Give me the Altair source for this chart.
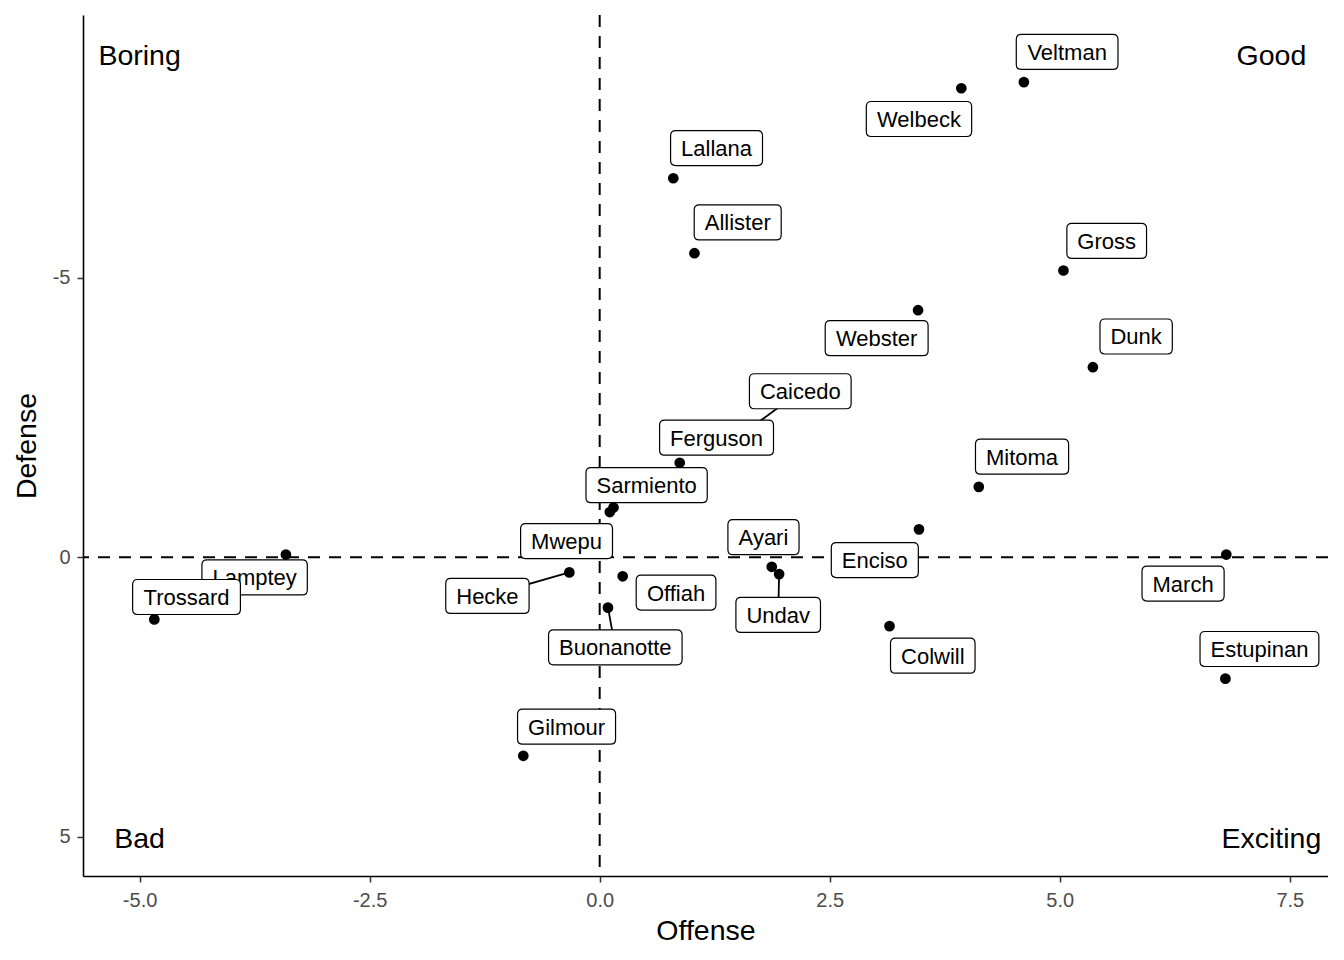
import altair as alt
import pandas as pd

# ---- data ----
names = ["Veltman", "Welbeck", "Lallana", "Allister", "Gross", "Webster", "Dunk",
         "Caicedo", "Ferguson", "Sarmiento", "Mwepu", "Mitoma", "Enciso", "Ayari",
         "Hecke", "Offiah", "Undav", "Lamptey", "Trossard", "Buonanotte", "Colwill",
         "March", "Estupinan", "Gilmour"]
offense = [4.61, 3.93, 0.80, 1.03, 5.04, 3.46, 5.36,
           1.58, 0.87, 0.15, 0.11, 4.12, 3.47, 1.87,
           -0.33, 0.25, 1.95, -3.41, -4.84, 0.09, 3.15,
           6.81, 6.80, -0.83]
defense = [-8.50, -8.39, -6.78, -5.44, -5.13, -4.42, -3.40,
           -2.24, -1.69, -0.89, -0.81, -1.26, -0.50, 0.17,
           0.27, 0.34, 0.30, -0.05, 1.11, 0.90, 1.23,
           -0.05, 2.17, 3.55]
# repelled label centres (data units)
label_x = [5.08, 3.47, 1.27, 1.50, 5.51, 3.01, 5.83,
           2.18, 1.27, 0.51, -0.36, 4.59, 2.99, 1.78,
           -1.22, 0.83, 1.94, -3.75, -4.49, 0.17, 3.62,
           6.34, 7.17, -0.36]
label_y = [-9.04, -7.84, -7.32, -5.99, -5.66, -3.92, -3.95,
           -2.97, -2.14, -1.29, -0.29, -1.80, 0.05, -0.36,
           0.69, 0.63, 1.03, 0.36, 0.71, 1.61, 1.76,
           0.47, 1.64, 3.03]
segment_names = ["Caicedo", "Hecke", "Undav", "Buonanotte"]
top_names = ["Trossard"]

quad_text = ["Boring", "Good", "Bad", "Exciting"]
quad_x = [-5.0, 7.3, -5.0, 7.3]
quad_y = [-9.0, -9.0, 5.0, 5.0]

x_ticks = [-5.0, -2.5, 0.0, 2.5, 5.0, 7.5]
y_ticks = [-5, 0, 5]

FONT = "Liberation Sans, Arial, Helvetica, sans-serif"
LABEL_FS = 22

# Arial/Liberation Sans advance widths (per 1000 em) for label box sizing
AW = {"A": 667, "B": 667, "C": 722, "D": 722, "E": 667, "F": 611, "G": 778, "H": 722,
      "L": 556, "M": 833, "O": 778, "S": 667, "T": 611, "U": 722, "V": 667, "W": 944,
      "a": 556, "b": 556, "c": 500, "d": 556, "e": 556, "f": 278, "g": 556, "h": 556,
      "i": 222, "j": 222, "k": 500, "l": 222, "m": 833, "n": 556, "o": 556, "p": 556,
      "q": 556, "r": 333, "s": 500, "t": 278, "u": 556, "v": 500, "w": 722, "x": 500,
      "y": 500, "z": 500}


def box_path(text):
    w = sum(AW.get(c, 556) for c in text) / 1000 * LABEL_FS + 21
    h = 35
    r = 5
    hw, hh = w / 2, h / 2
    return (f"M{-hw + r:.2f},{-hh:.2f}H{hw - r:.2f}Q{hw:.2f},{-hh:.2f},{hw:.2f},{-hh + r:.2f}"
            f"V{hh - r:.2f}Q{hw:.2f},{hh:.2f},{hw - r:.2f},{hh:.2f}H{-hw + r:.2f}"
            f"Q{-hw:.2f},{hh:.2f},{-hw:.2f},{hh - r:.2f}V{-hh + r:.2f}"
            f"Q{-hw:.2f},{-hh:.2f},{-hw + r:.2f},{-hh:.2f}Z")


df = pd.DataFrame({
    "name": names, "offense": offense, "defense": defense,
    "lx": label_x, "ly": label_y,
})
df["path"] = [box_path(n) for n in names]
df["seg"] = [n in segment_names for n in names]
df["top"] = [n in top_names for n in names]

quad = pd.DataFrame({"t": quad_text, "qx": quad_x, "qy": quad_y})
zero = pd.DataFrame({"z": [0.0]})

x_scale = alt.Scale(domain=[-5.615, 7.915], nice=False, zero=False)
y_scale = alt.Scale(domain=[-9.7, 5.7], nice=False, zero=False, reverse=True)

x_axis = alt.Axis(title="Offense", values=x_ticks, grid=False,
                  labelExpr="(datum.value < 0 ? '-' : '') + format(abs(datum.value), '.1f')",
                  titleY=63, titleX=622.5, titleBaseline="alphabetic", labelPadding=8)
y_axis = alt.Axis(title="Defense", values=y_ticks, grid=False,
                  labelExpr="(datum.value < 0 ? '-' : '') + format(abs(datum.value), 'd')",
                  titleX=-48, titleY=430.5, titleBaseline="alphabetic", labelPadding=7)


def X(f):
    return alt.X(f, type="quantitative", scale=x_scale, axis=x_axis)


def Y(f):
    return alt.Y(f, type="quantitative", scale=y_scale, axis=y_axis)


hline = alt.Chart(zero).mark_rule(color="black", strokeWidth=2, strokeDash=[12, 9]).encode(y=Y("z"))
vline = alt.Chart(zero).mark_rule(color="black", strokeWidth=2, strokeDash=[12, 9]).encode(x=X("z"))

points = alt.Chart(df).mark_circle(color="black", size=115, opacity=1).encode(
    x=X("offense"), y=Y("defense"))

segs = alt.Chart(df).transform_filter("datum.seg").mark_rule(
    color="black", strokeWidth=1.8).encode(
    x=X("offense"), y=Y("defense"), x2="lx", y2="ly")


def label_layers(cond):
    sub = alt.Chart(df).transform_filter(cond)
    boxes = sub.mark_point(filled=True, fill="white", stroke="black", strokeWidth=1.2,
                           size=4, opacity=1, fillOpacity=1, strokeOpacity=1).encode(
        x=X("lx"), y=Y("ly"), shape=alt.Shape("path:N", scale=None, legend=None))
    texts = sub.mark_text(font=FONT, fontSize=LABEL_FS, color="black", align="center",
                          baseline="middle", dy=1).encode(
        x=X("lx"), y=Y("ly"), text="name:N")
    return [boxes, texts]


quads = alt.Chart(quad).mark_text(font=FONT, fontSize=28.5, color="black", align="center",
                                  baseline="middle", dy=2).encode(
    x=X("qx"), y=Y("qy"), text="t:N")

chart = alt.layer(
    hline, vline, points, segs,
    *label_layers("!datum.top"),
    *label_layers("datum.top"),
    quads,
).properties(
    width=1245, height=861,
    autosize=alt.AutoSizeParams(type="none"),
    padding={"left": 75, "top": 7, "right": 0, "bottom": 80},
).configure(
    font=FONT, background="white"
).configure_view(
    stroke=None
).configure_axis(
    grid=False, domainColor="black", domainWidth=1.6,
    tickColor="#333333", tickWidth=1.5, tickSize=6,
    labelColor="#4d4d4d", labelFontSize=20, labelFont=FONT,
    titleFont=FONT, titleFontSize=28.5, titleFontWeight="normal", titleColor="black",
)

chart.save("out.html", embed_options={"renderer": "svg", "actions": False})
